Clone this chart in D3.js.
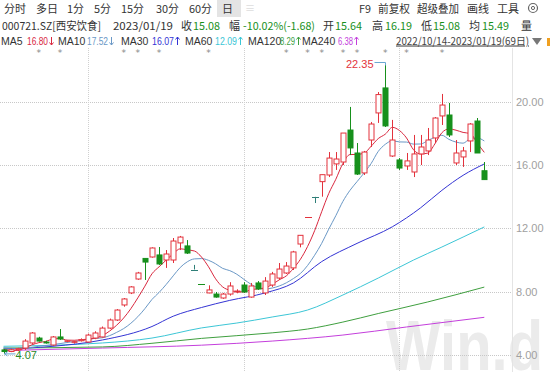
<!DOCTYPE html>
<html>
<head>
<meta charset="utf-8">
<script src="https://cdn.jsdelivr.net/npm/d3@7"></script>
<style>
body { margin: 0; background: #fff; }
svg { display: block; font-family: "Noto Sans CJK SC", "Noto Sans", sans-serif; }
</style>
</head>
<body>
<div id="chart"></div>
<script>
// daily bars 2022/10/14 - 2023/01/19 (69 days)
var opens  = [4.32,4.22,4.33,4.44,4.76,5.07,4.82,4.63,5.14,4.86, 4.80,4.90,4.82,5.07,5.14,5.70,6.21,7.16,7.92,8.80,
              10.10,10.19,10.32,10.00,10.00,11.08,10.89,9.40,8.46,7.92, 7.85,7.60,7.85,7.98,8.42,7.66,8.55,7.92,8.42,8.86,
              9.18,9.50,11.01,12.72,13.99,14.95,15.37,16.07,16.19,18.21, 16.76,15.50,17.58,19.29,20.87,16.57,16.32,15.94,15.56,16.70,
              16.89,17.71,19.10,19.16,16.13,16.51,17.52,18.78,15.64];
var highs  = [4.38,4.40,4.45,5.00,5.45,5.15,4.90,5.20,5.64,4.95, 4.90,5.05,5.35,5.50,5.80,6.30,6.90,7.60,8.35,9.25,
              10.10,10.80,10.82,10.63,11.39,11.52,11.26,9.69,8.46,8.40, 7.98,7.92,8.60,8.15,8.60,8.55,8.67,8.92,9.25,9.81,
              9.87,10.58,11.56,12.72,13.99,15.39,16.82,16.82,18.02,19.67, 17.39,16.89,18.72,20.61,22.35,18.85,16.44,16.76,17.90,17.90,
              18.34,19.03,20.49,19.92,17.58,17.14,18.65,18.97,16.19];
var lows   = [4.07,4.18,4.25,4.32,4.70,4.85,4.72,4.58,4.95,4.80, 4.72,4.85,4.80,5.00,5.10,5.65,6.15,7.05,7.85,8.75,
              8.74,10.15,9.69,9.50,9.81,10.63,10.38,9.40,8.46,7.90, 7.62,7.55,7.75,7.90,7.92,7.62,8.11,7.79,8.30,8.74,
              9.12,9.37,10.80,12.72,13.60,14.00,15.24,15.69,16.00,16.63, 15.37,15.37,17.14,18.66,18.40,16.51,15.69,15.69,15.24,16.00,
              16.63,17.39,18.53,17.77,16.00,15.88,16.82,16.76,15.08];
var closes = [4.22,4.33,4.40,4.88,5.39,4.88,4.76,5.14,5.01,4.90, 4.84,4.97,5.26,5.39,5.70,6.21,6.84,7.54,8.30,9.18,
              9.87,10.76,9.75,10.38,11.20,11.45,10.44,9.40,8.46,8.11, 7.66,7.85,8.36,8.04,7.98,8.36,8.17,8.67,9.12,9.43,
              9.62,10.51,11.56,12.72,13.99,15.39,16.44,16.38,18.02,17.08, 15.43,16.82,18.59,20.45,18.47,17.58,15.81,16.26,16.70,17.14,
              17.58,18.97,19.79,17.90,16.76,16.89,18.59,16.76,15.08];

// moving averages
var ma5  = [4.35,4.30,4.30,4.44,4.64,4.78,4.86,5.01,5.04,4.94, 4.93,4.97,5.00,5.07,5.23,5.51,5.88,6.34,6.92,7.61,
            8.35,9.13,9.57,9.99,10.39,10.71,10.64,10.57,10.19,9.57, 8.81,8.30,8.09,8.00,7.98,8.12,8.18,8.24,8.46,8.75,
            9.00,9.47,10.05,10.85,11.85,13.05,14.20,15.10,16.10,16.66, 16.67,16.75,17.19,17.67,17.95,18.38,18.18,17.71,16.96,16.70,
            16.75,17.33,18.04,18.28,18.20,18.06,17.99,17.38,16.80];
var ma10 = [4.45,4.43,4.41,4.43,4.48,4.55,4.60,4.66,4.72,4.79, 4.85,4.92,5.00,5.05,5.09,5.22,5.43,5.67,6.00,6.42,
            6.93,7.51,7.95,8.45,9.00,9.53,9.89,10.07,10.09,9.98, 9.76,9.47,9.33,9.10,8.78,8.47,8.24,8.17,8.23,8.36,
            8.56,8.83,9.15,9.65,10.30,11.05,11.95,12.80,13.70,14.40, 14.95,15.50,16.10,16.86,17.31,17.53,17.46,17.45,17.32,17.33,
            17.54,17.76,17.88,17.62,17.45,17.38,17.66,17.71,17.52];
// [day index, value]
var ma30  = [[0,4.38],[7,4.55],[14,4.95],[21,5.80],[24,6.45],[28,7.00],[32,7.45],[37,7.92],[41,8.55],[45,9.90],[50,11.05],[55,12.10],[59,13.30],[62,14.40],[65,15.35],[68,16.07]];
var ma60  = [[0,4.55],[14,4.76],[21,5.07],[28,5.71],[33,6.02],[38,6.40],[43,6.84],[48,7.79],[53,8.86],[58,10.00],[62,10.82],[68,12.09]];
var ma120 = [[0,4.44],[14,4.51],[21,4.74],[28,5.05],[38,5.40],[43,5.64],[48,6.08],[53,6.62],[60,7.35],[68,8.29]];
var ma240 = [[0,4.28],[14,4.44],[28,4.62],[38,4.88],[48,5.26],[57,5.77],[68,6.38]];

var priceTicks = [4, 8, 12, 16, 20];
var monthStarts = [12, 34, 56];   // 11/01, 12/01, 01/03
var infoDays = [5,8,17,19,22,29,40,43,45,48,50,54,57,62];

var RED = "#e3323c", GREEN = "#17901c";
var maColors = { ma5: "#d9283f", ma10: "#6a98c6", ma30: "#3434d4", ma60: "#3cc6d6", ma120: "#3f9f3f", ma240: "#c43fdc" };

var W = 550, H = 372;
var svg = d3.select("#chart").append("svg")
    .attr("width", W)
    .attr("height", H);

var x = d3.scaleLinear().domain([0, 68]).range([3.5, 484.3]);
var y = d3.scaleLinear().domain([4, 20]).range([355, 101.7]);
var plotRight = 512;

// watermark
svg.append("text")
    .attr("x", 386).attr("y", 370)
    .attr("textLength", 157)
    .attr("lengthAdjust", "spacingAndGlyphs")
    .style("font-family", "Liberation Sans, Arial, sans-serif")
    .style("font-size", "70px")
    .style("font-weight", "bold")
    .style("fill", "#ebebeb")
    .text("Win.d");

// grid
svg.append("g").selectAll("line")
    .data(priceTicks)
    .enter().append("line")
      .attr("x1", 0).attr("x2", plotRight)
      .attr("y1", function(d) { return Math.round(y(d)) + 0.5; })
      .attr("y2", function(d) { return Math.round(y(d)) + 0.5; })
      .style("stroke", "#c8c8c8")
      .style("stroke-dasharray", "1,1");

svg.append("g").selectAll("line")
    .data(monthStarts)
    .enter().append("line")
      .attr("x1", function(d) { return Math.round(x(d)) + 0.5; })
      .attr("x2", function(d) { return Math.round(x(d)) + 0.5; })
      .attr("y1", 48).attr("y2", H)
      .style("stroke", "#d0d0d0")
      .style("stroke-dasharray", "1,1");

svg.append("line")
    .attr("x1", plotRight + 0.5).attr("x2", plotRight + 0.5)
    .attr("y1", 48).attr("y2", H)
    .style("stroke", "#e4e4e4");

// price labels
svg.append("g").selectAll("text")
    .data(priceTicks)
    .enter().append("text")
      .attr("x", 516)
      .attr("y", function(d) { return y(d); })
      .attr("dy", "0.35em")
      .style("font-family", "Liberation Sans, Arial, sans-serif")
      .style("font-size", "11px")
      .style("fill", "#a0a0a0")
      .text(function(d) { return d.toFixed(2); });

// moving average lines
function drawDense(arr, color) {
  svg.append("path")
    .datum(arr)
    .attr("d", d3.line()
        .x(function(d, i) { return x(i); })
        .y(function(d) { return y(d); })
        .curve(d3.curveMonotoneX))
    .style("fill", "none")
    .style("stroke", color)
    .style("stroke-width", 1);
}
function drawSparse(arr, color) {
  svg.append("path")
    .datum(arr)
    .attr("d", d3.line()
        .x(function(d) { return x(d[0]); })
        .y(function(d) { return y(d[1]); })
        .curve(d3.curveMonotoneX))
    .style("fill", "none")
    .style("stroke", color)
    .style("stroke-width", 1);
}
drawSparse(ma240, maColors.ma240);
drawSparse(ma120, maColors.ma120);
drawSparse(ma60, maColors.ma60);
drawSparse(ma30, maColors.ma30);
drawDense(ma10, maColors.ma10);
drawDense(ma5, maColors.ma5);

// candles
var bars = d3.range(opens.length).map(function(i) {
  return { i: i, o: opens[i], h: highs[i], l: lows[i], c: closes[i], pc: i > 0 ? closes[i - 1] : opens[i] };
});
function barColor(d) {
  if (d.c > d.o) return RED;
  if (d.c < d.o) return GREEN;
  if (d.h === d.l) return d.c >= d.pc ? RED : GREEN;
  return "#2f7f78";
}
var bw = 5;
var candle = svg.append("g").selectAll("g")
    .data(bars)
    .enter().append("g");

candle.append("line")
    .attr("x1", function(d) { return Math.round(x(d.i)) + 0.5; })
    .attr("x2", function(d) { return Math.round(x(d.i)) + 0.5; })
    .attr("y1", function(d) { return y(d.h); })
    .attr("y2", function(d) { return y(d.l); })
    .style("stroke", barColor);

candle.filter(function(d) { return d.o !== d.c; })
  .append("rect")
    .attr("x", function(d) { return Math.round(x(d.i)) - 2; })
    .attr("y", function(d) { return y(Math.max(d.o, d.c)); })
    .attr("width", bw)
    .attr("height", function(d) { return Math.abs(y(d.o) - y(d.c)); })
    .style("fill", function(d) { return d.c > d.o ? "#fff" : barColor(d); })
    .style("stroke", barColor)
    .style("stroke-width", 1);

// flat bars drawn as dashes
candle.filter(function(d) { return d.o === d.c; })
  .append("line")
    .attr("x1", function(d) { return Math.round(x(d.i)) - 3; })
    .attr("x2", function(d) { return Math.round(x(d.i)) + 4; })
    .attr("y1", function(d) { return Math.round(y(d.c)) + 0.5; })
    .attr("y2", function(d) { return Math.round(y(d.c)) + 0.5; })
    .style("stroke", barColor);

// info markers
svg.append("g").selectAll("text")
    .data(infoDays)
    .enter().append("text")
      .attr("x", function(d) { return x(d); })
      .attr("y", 55.5)
      .attr("text-anchor", "middle")
      .style("font-family", "DejaVu Sans, sans-serif")
      .style("font-size", "9px")
      .style("fill", "#888")
      .text("*");

// high / low annotations
var hiIdx = highs.indexOf(d3.max(highs)), loIdx = lows.indexOf(d3.min(lows));
var hx = Math.round(x(hiIdx)) + 0.5, hy = y(highs[hiIdx]);
svg.append("path")
    .attr("d", "M" + hx + "," + (hy + 1) + "V" + (hy - 2) + "H" + (hx - 11))
    .style("fill", "none")
    .style("stroke", "#6aa6d2");
svg.append("text")
    .attr("x", hx - 12).attr("y", hy - 0.5).attr("dy", "0.35em")
    .attr("text-anchor", "end")
    .style("font-family", "Liberation Sans, Arial, sans-serif")
    .style("font-size", "11px")
    .style("fill", RED)
    .text(highs[hiIdx].toFixed(2));

var lx = x(loIdx), ly = y(lows[loIdx]);
svg.append("path")
    .attr("d", "M" + (lx + 4) + "," + (ly - 2) + "L" + (lx + 1) + "," + ly + "L" + (lx + 4) + "," + (ly + 2) + "M" + (lx + 1) + "," + ly + "H" + (lx + 12))
    .style("fill", "none")
    .style("stroke", "#6aa6d2");
svg.append("text")
    .attr("x", lx + 12).attr("y", ly + 1).attr("dy", "0.35em")
    .style("font-family", "Liberation Sans, Arial, sans-serif")
    .style("font-size", "11px")
    .style("fill", "#2a8a2a")
    .text(lows[loIdx].toFixed(2));

// header: [text, x, width, colour]
var head = svg.append("g");
function putRow(rows, yy, size, family) {
  head.selectAll(null).data(rows).enter().append("text")
      .attr("x", function(d) { return d[1]; })
      .attr("y", yy)
      .attr("textLength", function(d) { return d[2]; })
      .attr("lengthAdjust", "spacingAndGlyphs")
      .style("font-size", size)
      .style("font-family", family || null)
      .style("fill", function(d) { return d[3]; })
      .text(function(d) { return d[0]; });
}
head.append("rect").attr("x", 217).attr("y", 0).attr("width", 24).attr("height", 17).style("fill", "#e4e4e4");
var tabs = [["分时",4,22,"#333"],["多日",36,22,"#333"],["1分",67,17,"#333"],["5分",94,17,"#333"],["15分",121,23,"#333"],
            ["30分",156,23,"#333"],["60分",189,23,"#333"],["日",222,11,"#333"],
            ["F9",359,12,"#333"],["前复权",378,32,"#333"],["超级叠加",417,42,"#333"],["画线",467,22,"#333"],["工具",497,22,"#333"]];
putRow(tabs, 12.5, "11px");
head.append("text").attr("x", 245).attr("y", 12).style("fill", "#ddd").style("font-size", "10px").text("≡");
head.append("circle").attr("cx", 533).attr("cy", 8).attr("r", 4.5).style("fill", "none").style("stroke", "#666").style("stroke-width", 1.2);
head.append("circle").attr("cx", 533).attr("cy", 8).attr("r", 1.6).style("fill", "none").style("stroke", "#666");

var row2 = [["000721.SZ[西安饮食]",2,99,"#333"],["2023/01/19",113,60,"#333"],["收",181,11,"#333"],["15.08",193,27,GREEN],
            ["幅",229,11,"#333"],["-10.02%(-1.68)",243,72,GREEN],["开",323,11,"#333"],["15.64",335,27,GREEN],
            ["高",372,11,"#333"],["16.19",385,27,GREEN],["低",421,11,"#333"],["15.08",433,27,GREEN],
            ["均",469,11,"#333"],["15.49",482,27,GREEN],["量",521,11,"#333"]];
putRow(row2, 29.5, "11px");

// MA legend: [label, label x, value, value x, value width, colour, up?]
var maLegend = [["MA5",1,"16.80",27,21,maColors.ma5,false],["MA10",58,"17.52",87,21,maColors.ma10,false],
                ["MA30",121,"16.07",152,22,maColors.ma30,true],["MA60",185,"12.09",215,22,maColors.ma60,true],
                ["MA120",248,"8.29",280,15,maColors.ma120,true],["MA240",302,"6.38",338,15,maColors.ma240,true]];
putRow(maLegend.map(function(d) { return [d[0], d[1], null, "#333"]; }), 44.5, "10.5px", "Liberation Sans, Arial, sans-serif");
putRow(maLegend.map(function(d) { return [d[2], d[3], d[4], d[5]]; }), 44.5, "10.5px", "Liberation Sans, Arial, sans-serif");
head.selectAll(".arr").data(maLegend).enter().append("path")
    .attr("class", "arr")
    .attr("d", function(d) {
      var ax = d[3] + d[4] + 3.5;
      return d[6] ? "M" + ax + ",45V37M" + (ax - 2) + ",39.5L" + ax + ",37L" + (ax + 2) + ",39.5"
                  : "M" + ax + ",37V45M" + (ax - 2) + ",42.5L" + ax + ",45L" + (ax + 2) + ",42.5";
    })
    .style("fill", "none")
    .style("stroke", function(d) { return d[5]; })
    .style("stroke-width", 1);
head.append("text")
    .attr("x", 396).attr("y", 44.5)
    .attr("textLength", 133)
    .attr("lengthAdjust", "spacingAndGlyphs")
    .style("font-size", "10.5px")
    .style("fill", "#444")
    .style("text-decoration", "underline")
    .text("2022/10/14-2023/01/19(69日)");
head.append("path").attr("d", "M532,38H542L537,45Z").style("fill", "#777");
head.append("rect").attr("x", 547).attr("y", 38).attr("width", 3).attr("height", 8).style("fill", "#f0a020");
</script>
</body>
</html>
